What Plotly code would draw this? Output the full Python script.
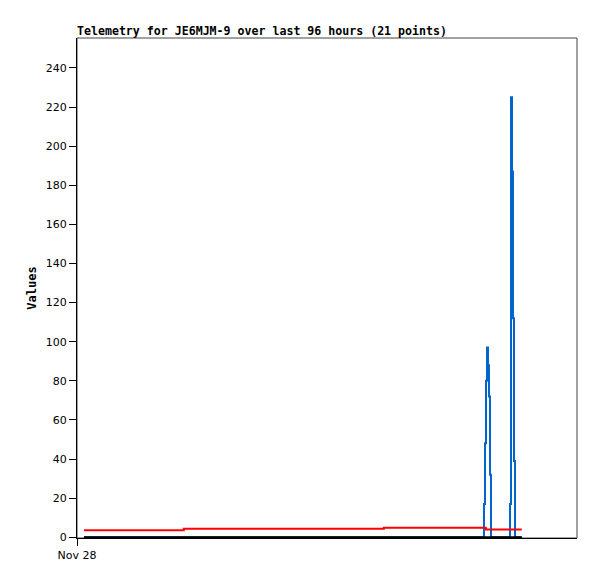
import plotly.graph_objects as go

# x in hours since Nov 28 00:00 (axis spans 96 hours)
x_axis_range = [0, 96]
tick_vals = [0]
tick_text = ["Nov 28"]

blue_x = [1.34, 78.14, 78.34, 78.53, 78.72, 78.91, 79.10, 79.30, 79.49,
          83.14, 83.33, 83.52, 83.71, 83.90, 84.10, 85.40]
blue_y = [0, 17, 48, 80, 97, 88, 72, 32, 0,
          17, 225, 187, 112, 39, 0, 0]

red_x = [1.34, 20.5, 58.9, 78.5, 85.4]
red_y = [3.6, 4.3, 4.9, 4.0, 4.0]

black_x = [1.34, 85.4]
black_y = [0, 0]

fig = go.Figure()
fig.add_trace(go.Scatter(x=blue_x, y=blue_y, mode="lines", line=dict(color="#0066cc", width=2, shape="hv"), showlegend=False))
fig.add_trace(go.Scatter(x=red_x, y=red_y, mode="lines", line=dict(color="#ff0000", width=2, shape="hv"), showlegend=False))
fig.add_trace(go.Scatter(x=black_x, y=black_y, mode="lines", line=dict(color="#000000", width=2, shape="hv"), showlegend=False))

fig.update_layout(
    width=589, height=571,
    margin=dict(l=69, r=20, t=30, b=41),
    paper_bgcolor="white", plot_bgcolor="white",
    title=dict(text="<b>Telemetry for JE6MJM-9 over last 96 hours (21 points)</b>",
               x=69/589, xanchor="left", y=1-23/571, yanchor="middle",
               font=dict(family="DejaVu Sans Mono", size=11.6, color="black")),
    xaxis=dict(range=x_axis_range, tickvals=tick_vals, ticktext=tick_text,
               showgrid=False, zeroline=False, showline=True, linecolor="black", linewidth=1,
               ticks="outside", ticklen=7, tickcolor="black",
               tickfont=dict(family="DejaVu Sans", size=11, color="black")),
    yaxis=dict(range=[-0.4, 255.3], tickvals=list(range(0, 241, 20)),
               showgrid=False, zeroline=False, showline=True, linecolor="black", linewidth=1,
               ticks="outside", ticklen=7, tickcolor="black",
               tickfont=dict(family="DejaVu Sans", size=11, color="black"),
               title=dict(text="<b>Values</b>", standoff=6,
                          font=dict(family="DejaVu Sans Mono", size=12, color="black"))),
    shapes=[dict(type="rect", xref="paper", yref="paper", x0=0, x1=1, y0=0, y1=1,
                 line=dict(color="#444444", width=1), layer="below")],
)
fig.write_html("out.html")
